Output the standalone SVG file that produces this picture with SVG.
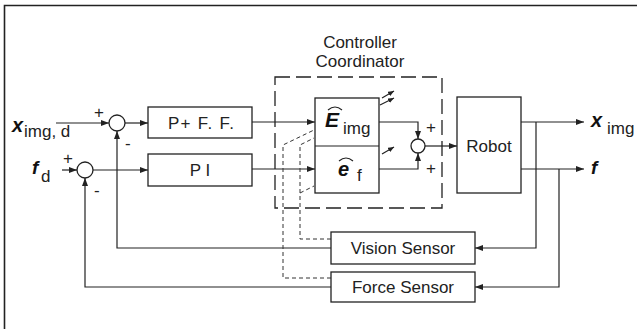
<svg xmlns="http://www.w3.org/2000/svg" width="637" height="329" viewBox="0 0 637 329">
<style>
.box{fill:#fff;stroke:#222;stroke-width:1.3}
.ln{fill:none;stroke:#222;stroke-width:1.2}
.dash{fill:none;stroke:#333;stroke-width:1;stroke-dasharray:4 3}
.cdash{fill:none;stroke:#222;stroke-width:1.3;stroke-dasharray:15 6}
.t{font-family:"Liberation Sans",Arial,sans-serif;font-size:17px;fill:#222}
.m{font-family:"Liberation Sans",Arial,sans-serif;font-weight:bold;font-style:italic;fill:#111}
</style>
<defs>
<marker id="ah" markerWidth="8" markerHeight="6" refX="8" refY="3" orient="auto" markerUnits="userSpaceOnUse">
<path d="M0,0 L8,3 L0,6 z" fill="#222"/>
</marker>
<marker id="sa" markerWidth="6" markerHeight="5" refX="6" refY="2.5" orient="auto" markerUnits="userSpaceOnUse">
<path d="M0,0 L6,2.5 L0,5 z" fill="#222"/>
</marker>
</defs>
<rect width="637" height="329" fill="#fff"/>
<path d="M4.5,329 V5.5 H637" fill="none" stroke="#222" stroke-width="1.6"/>

<g id="connectors">
<line class="ln" x1="56" y1="123" x2="109" y2="123" marker-end="url(#ah)"/>
<line class="ln" x1="62" y1="170" x2="77" y2="170" marker-end="url(#ah)"/>
<line class="ln" x1="125" y1="123" x2="148" y2="123" marker-end="url(#ah)"/>
<line class="ln" x1="93" y1="170" x2="148" y2="170" marker-end="url(#ah)"/>
<line class="ln" x1="252" y1="122" x2="315" y2="122" marker-end="url(#ah)"/>
<line class="ln" x1="252" y1="169" x2="315" y2="169" marker-end="url(#ah)"/>
<polyline class="ln" points="379,122 418,122 418,139" marker-end="url(#ah)"/>
<polyline class="ln" points="379,169 418,169 418,153" marker-end="url(#ah)"/>
<line class="ln" x1="425" y1="146" x2="457" y2="146" marker-end="url(#ah)"/>
<line class="ln" x1="521" y1="122" x2="584" y2="122" marker-end="url(#ah)"/>
<line class="ln" x1="521" y1="169" x2="584" y2="169" marker-end="url(#ah)"/>
<polyline class="ln" points="536,122 536,248 475,248" marker-end="url(#ah)"/>
<polyline class="ln" points="559,169 559,287 475,287" marker-end="url(#ah)"/>
<polyline class="ln" points="331,248 117,248 117,131" marker-end="url(#ah)"/>
<polyline class="ln" points="331,287 85,287 85,178" marker-end="url(#ah)"/>
<polyline class="dash" points="331,278 283,278 283,145 314,130"/>
<polyline class="dash" points="331,239 300,239 300,145 314,138"/>
<line class="dash" x1="300" y1="193" x2="314" y2="186"/>
<line class="ln" x1="382" y1="98" x2="394" y2="91" marker-end="url(#sa)"/>
<line class="ln" x1="380" y1="105" x2="394" y2="98" marker-end="url(#sa)"/>
<line class="ln" x1="382" y1="154" x2="394" y2="147" marker-end="url(#sa)"/>
</g>

<g id="input-x">
<text class="m" x="12" y="132" font-size="20">x</text>
<text class="t" x="24" y="137">img, d</text>
<text class="t" x="94" y="118" font-size="14">+</text>
<text class="t" x="125" y="149" font-size="14">-</text>
</g>
<g id="input-f">
<text class="m" x="32" y="174" font-size="19">f</text>
<text class="t" x="41" y="182">d</text>
<text class="t" x="63" y="164" font-size="14">+</text>
<text class="t" x="94" y="196" font-size="14">-</text>
</g>
<g id="sum1"><circle class="box" cx="117" cy="123" r="8"/></g>
<g id="sum2"><circle class="box" cx="85" cy="170" r="8"/></g>
<g id="pff"><rect class="box" x="148" y="107" width="104" height="31"/><text class="t" x="168" y="129" textLength="66" lengthAdjust="spacing">P+ F. F.</text></g>
<g id="pi"><rect class="box" x="148" y="154" width="104" height="32"/><text class="t" x="200" y="176" text-anchor="middle">P I</text></g>

<g id="coordinator">
<text class="t" x="360" y="48" text-anchor="middle">Controller</text>
<text class="t" x="360" y="67" text-anchor="middle">Coordinator</text>
<rect class="cdash" x="275" y="77" width="167" height="131"/>
</g>
<g id="estimator">
<rect class="box" x="315" y="98" width="64" height="95"/>
<line class="ln" x1="315" y1="146" x2="379" y2="146"/>
<path d="M328,110 Q335,104 342,110" fill="none" stroke="#222" stroke-width="1.2"/>
<text class="m" x="325" y="127" font-size="21">E</text>
<text class="t" x="343" y="134">img</text>
<path d="M339,161 Q346,155 353,161" fill="none" stroke="#222" stroke-width="1.2"/>
<text class="m" x="338" y="176" font-size="20">e</text>
<text class="t" x="357" y="181">f</text>
</g>
<g id="sum3">
<circle class="box" cx="418" cy="146" r="7"/>
<text class="t" x="426" y="133" font-size="15">+</text>
<text class="t" x="426" y="174" font-size="15">+</text>
</g>
<g id="robot"><rect class="box" x="457" y="97" width="64" height="96"/><text class="t" x="489" y="152" text-anchor="middle">Robot</text></g>
<g id="output-x">
<text class="m" x="591" y="127" font-size="20">x</text>
<text class="t" x="607" y="134">img</text>
</g>
<g id="output-f"><text class="m" x="591" y="174" font-size="19">f</text></g>
<g id="vision"><rect class="box" x="331" y="232" width="144" height="32"/><text class="t" x="403" y="254" text-anchor="middle">Vision Sensor</text></g>
<g id="force"><rect class="box" x="331" y="272" width="144" height="30"/><text class="t" x="403" y="293" text-anchor="middle">Force Sensor</text></g>
</svg>
